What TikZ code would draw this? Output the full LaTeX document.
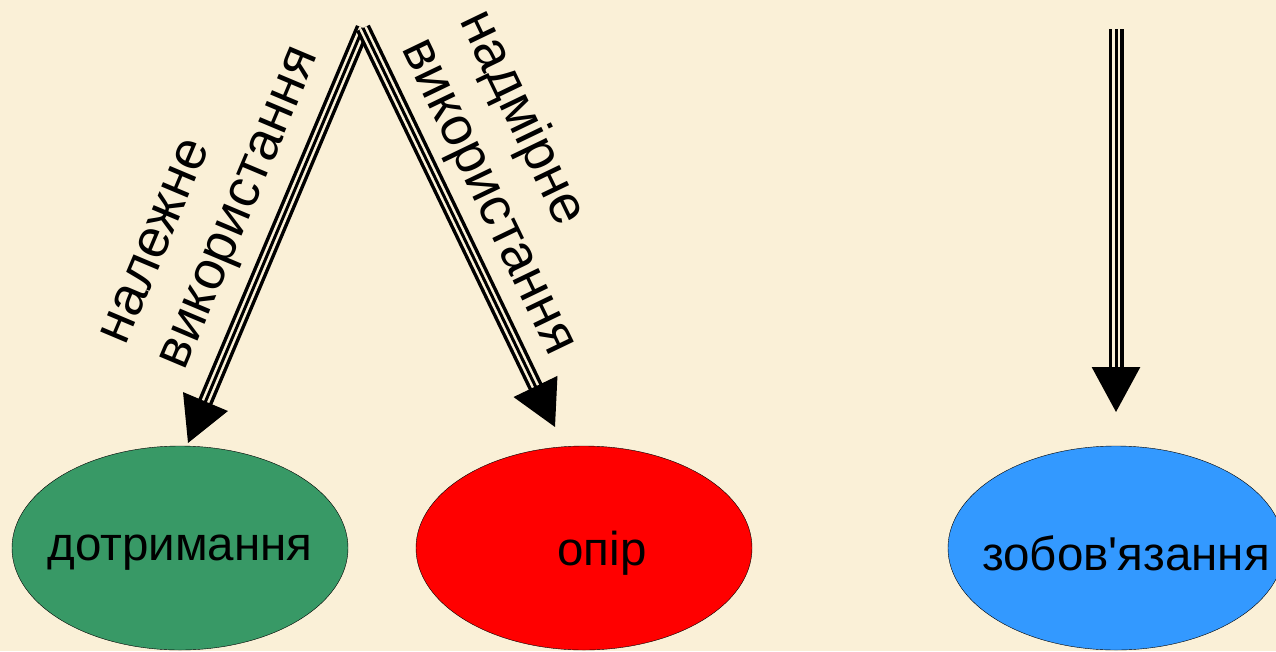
\documentclass[tikz,border=0pt]{standalone}
\usepackage{fontspec}
\setmainfont{Liberation Sans}
\newfontfamily\plainsans{Liberation Sans}
\usetikzlibrary{arrows.meta,shapes.geometric}
\definecolor{cream}{HTML}{FAF0D7}
\definecolor{grn}{HTML}{389966}
\definecolor{blu}{HTML}{3399FF}

\begin{document}
\begin{tikzpicture}[x=1pt,y=-1pt,
  oval/.style={ellipse, draw, thin, minimum width=336pt, minimum height=204pt, inner sep=0pt},
  word/.style={font=\fontsize{47.5}{52}\selectfont, yshift=-5pt},
  tag/.style={font=\fontsize{54}{64}\selectfont, align=left, sloped, inner sep=3pt},
  triple/.style={line width=3pt, -{Triangle[length=45pt,width=48pt]},
    preaction={draw, -, line width=15pt, shorten >=43pt},
    preaction={draw=cream, -, line width=8pt, shorten >=43pt}}]
  \fill[cream] (0,0) rectangle (1276,651);
  \useasboundingbox (0,0) rectangle (1276,651);
  % where the arrows start and stop
  \coordinate (top) at (363,28);
  \coordinate (tipL) at (188,443);
  \coordinate (tipM) at (555,427);
  \coordinate (topR) at (1116,29);
  \coordinate (tipR) at (1116,412);
  % the three outcomes
  \node (dotr) [oval, fill=grn, label={[word]center:дотримання}] at (180,548) {};
  \node (opir) [oval, fill=red, label={[word, xshift=18pt]center:опір}] at (584,548) {};
  \node (zob) [oval, fill=blu, label={[word, xshift=10pt]center:{\plainsans зобов'язання}}] at (1116,548) {};
  % arrows
  \draw[triple] (top) -- (tipL) node[tag, pos=.475, above=15pt] (useL) {належне\\використання};
  \draw[triple] (top) -- (tipM) node[tag, pos=.467, above=10pt] (useM) {надмірне\\використання};
  \draw[triple] (topR) -- (tipR);
\end{tikzpicture}
\end{document}
